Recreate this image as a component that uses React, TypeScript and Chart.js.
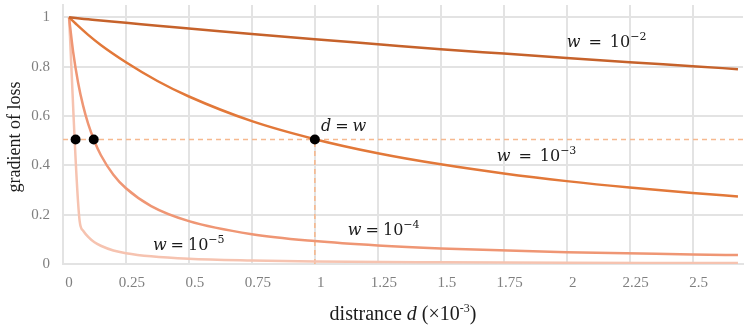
import React, { useEffect, useRef } from "react";
import { Chart, registerables } from "chart.js";

Chart.register(...registerables);

// ---------- data ----------
const xTickValues = [0, 0.25, 0.5, 0.75, 1, 1.25, 1.5, 1.75, 2, 2.25, 2.5];
const yTickValues = [0, 0.2, 0.4, 0.6, 0.8, 1];

const seriesExponents = ["−2", "−3", "−4", "−5"];

// distance samples (×10^-3) for the slow curves
const distA = [0.024, 0.05, 0.1, 0.15, 0.25, 0.375, 0.5, 0.75, 1, 1.25, 1.5, 1.75, 2, 2.25, 2.5, 2.68];
const gradW2 = [1.0, 0.997, 0.992, 0.987, 0.978, 0.966, 0.955, 0.932, 0.911, 0.891, 0.871, 0.853, 0.835, 0.818, 0.802, 0.79];
const gradW3 = [1.0, 0.975, 0.929, 0.888, 0.818, 0.742, 0.679, 0.579, 0.506, 0.449, 0.404, 0.367, 0.336, 0.31, 0.288, 0.274];

// w = 10^-4
const distB = [0.024, 0.04, 0.06, 0.08, 0.1, 0.125, 0.15, 0.2, 0.25, 0.35, 0.5, 0.75, 1, 1.25, 1.5, 2, 2.5, 2.68];
const gradW4 = [1.0, 0.862, 0.735, 0.641, 0.568, 0.498, 0.442, 0.362, 0.307, 0.235, 0.174, 0.121, 0.093, 0.075, 0.063, 0.048, 0.039, 0.036];

// w = 10^-5
const distC = [0.024, 0.066, 0.08, 0.1, 0.125, 0.15, 0.2, 0.25, 0.35, 0.5, 0.75, 1, 1.5, 2, 2.5, 2.68];
const gradW5 = [1.0, 0.175, 0.135, 0.11, 0.088, 0.074, 0.055, 0.044, 0.031, 0.021, 0.014, 0.01, 0.0068, 0.0051, 0.0041, 0.0038];

// points where d = w (gradient ≈ 0.5)
const halfDist = [0.05, 0.122, 1.0];
const halfGrad = [0.505, 0.505, 0.505];

const seriesColors = ["#c6622b", "#e27839", "#ef9674", "#f6c3b0"];
const dashColor = "#f6b98f";
const gridColor = "#e3e3e3";

const serif = '"Liberation Serif", "Times New Roman", serif';
const mathFont = '"DejaVu Serif", serif';

type Seg = { t?: string; font?: string; dy?: number; gap?: number };

function drawRich(ctx: CanvasRenderingContext2D, segs: Seg[], x: number, y: number, align: "left" | "center") {
  let total = 0;
  for (const s of segs) {
    if (s.gap) total += s.gap;
    if (s.t) {
      ctx.font = s.font as string;
      total += ctx.measureText(s.t).width;
    }
  }
  let cx = align === "center" ? x - total / 2 : x;
  for (const s of segs) {
    if (s.gap) cx += s.gap;
    if (s.t) {
      ctx.font = s.font as string;
      ctx.fillText(s.t, cx, y + (s.dy || 0));
      cx += ctx.measureText(s.t).width;
    }
  }
}

function wLabel(exp: string, gap: number): Seg[] {
  return [
    { t: "w", font: `italic 16px ${mathFont}` },
    { gap },
    { t: "=", font: `16px ${mathFont}` },
    { gap },
    { t: "10", font: `16px ${mathFont}` },
    { t: exp, font: `11px ${mathFont}`, dy: -7 },
  ];
}

const textPlugin = {
  id: "textPlugin",
  afterDraw(chart: any) {
    const ctx: CanvasRenderingContext2D = chart.ctx;
    const xs = chart.scales.x;
    const ys = chart.scales.y;
    const ca = chart.chartArea;
    ctx.save();
    ctx.fillStyle = "#1b1b1b";
    ctx.textBaseline = "alphabetic";
    ctx.textAlign = "left";

    // curve annotations (positions in data units)
    const ann: { segs: Seg[]; x: number; y: number }[] = [
      { segs: wLabel(seriesExponents[0], 8), x: 2.0, y: 0.88 },
      { segs: wLabel(seriesExponents[1], 8), x: 1.722, y: 0.418 },
      { segs: wLabel(seriesExponents[2], 4), x: 1.131, y: 0.116 },
      { segs: wLabel(seriesExponents[3], 4), x: 0.357, y: 0.056 },
      {
        segs: [
          { t: "d", font: `italic 16px ${mathFont}` },
          { gap: 4 },
          { t: "=", font: `16px ${mathFont}` },
          { gap: 4 },
          { t: "w", font: `italic 16px ${mathFont}` },
        ],
        x: 1.024,
        y: 0.538,
      },
    ];
    for (const a of ann) {
      drawRich(ctx, a.segs, xs.getPixelForValue(a.x), ys.getPixelForValue(a.y), "left");
    }

    // x axis title
    drawRich(
      ctx,
      [
        { t: "distrance ", font: `20px ${serif}` },
        { t: "d", font: `italic 20px ${serif}` },
        { t: " (×10", font: `20px ${serif}` },
        { t: "-3", font: `12px ${serif}`, dy: -8 },
        { t: ")", font: `20px ${serif}` },
      ],
      (ca.left + ca.right) / 2,
      320,
      "center"
    );

    // y axis title
    ctx.save();
    ctx.translate(15, 137);
    ctx.rotate(-Math.PI / 2);
    ctx.textAlign = "center";
    ctx.textBaseline = "middle";
    ctx.font = `18px ${serif}`;
    ctx.fillText("gradient of loss", 0, 0);
    ctx.restore();

    ctx.restore();
  },
};

function toPoints(xs: number[], ys: number[]) {
  return xs.map((x, i) => ({ x, y: ys[i] }));
}

export default function App() {
  const canvasRef = useRef<HTMLCanvasElement | null>(null);

  useEffect(() => {
    document.body.style.margin = "0";
    const canvas = canvasRef.current;
    if (!canvas) return;

    const curve = (data: { x: number; y: number }[], color: string) => ({
      data,
      borderColor: color,
      backgroundColor: color,
      borderWidth: 2.5,
      pointRadius: 0,
      cubicInterpolationMode: "monotone" as const,
      fill: false,
      order: 2,
    });

    const chart = new Chart(canvas, {
      type: "line",
      data: {
        datasets: [
          {
            data: toPoints(halfDist, halfGrad),
            showLine: false,
            pointRadius: 5,
            pointBackgroundColor: "#000",
            pointBorderColor: "#000",
            pointBorderWidth: 0,
            order: 0,
          },
          curve(toPoints(distA, gradW2), seriesColors[0]),
          curve(toPoints(distA, gradW3), seriesColors[1]),
          curve(toPoints(distB, gradW4), seriesColors[2]),
          curve(toPoints(distC, gradW5), seriesColors[3]),
          {
            data: [
              { x: 0, y: halfGrad[0] },
              { x: 2.7, y: halfGrad[0] },
            ],
            borderColor: dashColor,
            borderWidth: 1.6,
            borderDash: [5, 4],
            pointRadius: 0,
            order: 3,
          },
          {
            data: [
              { x: halfDist[2], y: 0 },
              { x: halfDist[2], y: halfGrad[2] },
            ],
            borderColor: dashColor,
            borderWidth: 1.6,
            borderDash: [5, 4],
            pointRadius: 0,
            order: 3,
          },
        ] as any,
      },
      options: {
        animation: false,
        responsive: false,
        devicePixelRatio: 1,
        layout: { padding: { top: 2, right: 5, left: 0, bottom: 0 } },
        plugins: {
          legend: { display: false },
          tooltip: { enabled: false },
        },
        scales: {
          x: {
            type: "linear",
            min: 0,
            max: 2.7,
            afterBuildTicks: (s: any) => {
              s.ticks = xTickValues.map((v) => ({ value: v }));
            },
            afterFit: (s: any) => {
              s.height = 65;
              s.paddingLeft = 0;
              s.paddingRight = 0;
            },
            grid: { color: gridColor, lineWidth: 2, drawTicks: false },
            border: { color: gridColor, width: 2 },
            ticks: {
              padding: 10,
              labelOffset: 6,
              color: "#7f7f7f",
              font: { family: serif, size: 15 },
              maxRotation: 0,
              autoSkip: false,
              callback: (v: any) => String(v),
            },
          },
          y: {
            type: "linear",
            min: 0,
            max: 1.05,
            afterBuildTicks: (s: any) => {
              s.ticks = yTickValues.map((v) => ({ value: v }));
            },
            afterFit: (s: any) => {
              s.width = 63;
              s.paddingTop = 0;
              s.paddingBottom = 0;
            },
            grid: { color: gridColor, lineWidth: 2, drawTicks: false },
            border: { color: gridColor, width: 2 },
            ticks: {
              padding: 13,
              color: "#7f7f7f",
              font: { family: serif, size: 15 },
              autoSkip: false,
              callback: (v: any) => String(v),
            },
          },
        },
      } as any,
      plugins: [textPlugin],
    });

    return () => {
      chart.destroy();
    };
  }, []);

  return (
    <div style={{ width: 748, height: 329, position: "relative" }}>
      <canvas ref={canvasRef} width={748} height={329} style={{ display: "block" }} />
    </div>
  );
}
